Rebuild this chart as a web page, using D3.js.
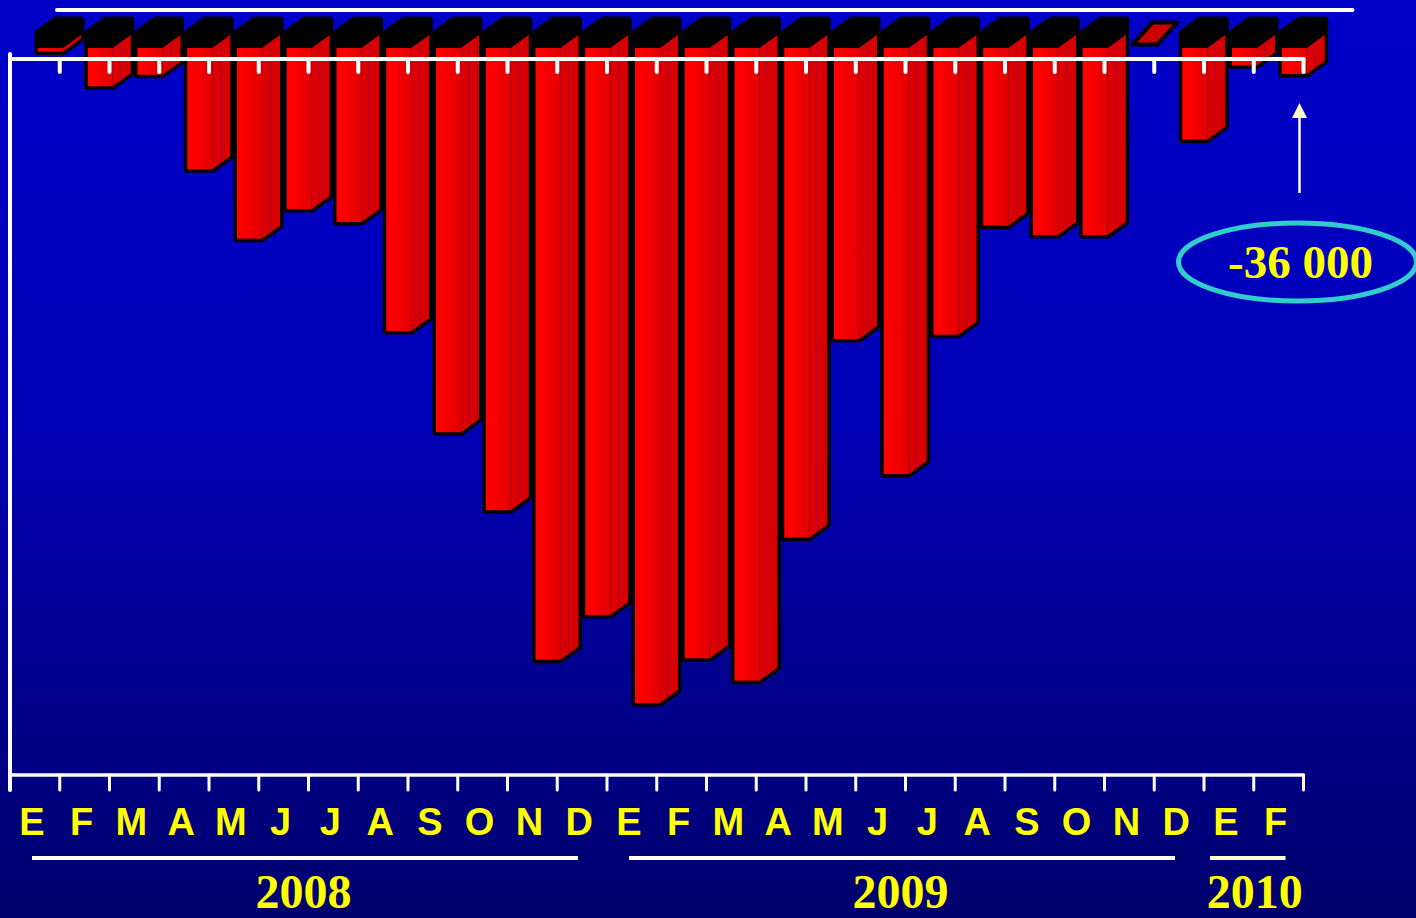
<!DOCTYPE html>
<html>
<head>
<meta charset="utf-8">
<script src="https://cdn.jsdelivr.net/npm/d3@7"></script>
<style>
  html, body { margin: 0; padding: 0; background: #000080; }
  svg { display: block; }
</style>
</head>
<body>
<svg id="chart" width="1416" height="918"></svg>
<script>
// ---- data ----
const monthLabels = ["E","F","M","A","M","J","J","A","S","O","N","D",
                     "E","F","M","A","M","J","J","A","S","O","N","D",
                     "E","F"];
// values in thousands (last = -36 000)
const values = [-5, -53, -37, -168, -264, -223, -241, -392, -532, -640, -847, -785,
                -907, -845, -876, -678, -403, -590, -397, -246, -259, -259, 5, -127,
                -24, -36];
const yearLabels = ["2008", "2009", "2010"];
const yearMonthCounts = [12, 12, 2];
const calloutLabel = "-36 000";

// ---- layout ----
const W = 1416, H = 918;
const svg = d3.select("#chart");
const defs = svg.append("defs");

const bg = defs.append("linearGradient").attr("id", "bg").attr("x1", 0).attr("y1", 0).attr("x2", 0).attr("y2", 1);
bg.append("stop").attr("offset", "0").attr("stop-color", "#0000c8");
bg.append("stop").attr("offset", "0.45").attr("stop-color", "#0000b6");
bg.append("stop").attr("offset", "1").attr("stop-color", "#00006c");

const fg = defs.append("linearGradient").attr("id", "front").attr("x1", 0).attr("y1", 0).attr("x2", 1).attr("y2", 0);
fg.append("stop").attr("offset", "0").attr("stop-color", "#ff0000");
fg.append("stop").attr("offset", "0.45").attr("stop-color", "#f80000");
fg.append("stop").attr("offset", "0.6").attr("stop-color", "#ee0000");
fg.append("stop").attr("offset", "1").attr("stop-color", "#e40000");

const sg = defs.append("linearGradient").attr("id", "side").attr("x1", 0).attr("y1", 0).attr("x2", 1).attr("y2", 0);
sg.append("stop").attr("offset", "0").attr("stop-color", "#de0000");
sg.append("stop").attr("offset", "1").attr("stop-color", "#d40000");

svg.append("rect").attr("width", W).attr("height", H).attr("fill", "url(#bg)");

const x = d3.scaleBand().domain(d3.range(values.length)).range([10, 1303.5]).padding(0);
const bw = x.bandwidth();
const y = d3.scaleLinear().domain([0, -900]).range([48, 48 + 650]);

const frontOff = 28, fw = 25, dx = 18, dy = 13, cap = 15;
const y0 = y(0);

// back wall top line
svg.append("line")
  .attr("x1", x.range()[0] + 47).attr("x2", x.range()[1] + 49)
  .attr("y1", 10).attr("y2", 10)
  .attr("stroke", "#fff").attr("stroke-width", 4).attr("stroke-linecap", "round");

const bars = svg.append("g");
values.forEach((v, i) => {
  const x0 = x(i) + frontOff, x1 = x0 + fw;
  const yv = y(v);
  const g = bars.append("g");
  if (v < 0) {
    const sil = [[x0, yv], [x0, y0 - cap], [x0 + dx, y0 - cap - dy], [x1 + dx, y0 - cap - dy],
                 [x1 + dx, yv - dy], [x1, yv]];
    g.append("path").attr("d", d3.line()(sil) + "Z")
      .attr("fill", "#000").attr("stroke", "#000").attr("stroke-width", 7).attr("stroke-linejoin", "round");
    g.append("rect").attr("x", x0).attr("y", y0).attr("width", fw).attr("height", yv - y0)
      .attr("fill", "url(#front)");
    const side = [[x1, y0], [x1 + dx, y0 - dy], [x1 + dx, yv - dy], [x1, yv]];
    g.append("path").attr("d", d3.line()(side) + "Z").attr("fill", "url(#side)");
    g.append("line").attr("x1", x1).attr("x2", x1).attr("y1", y0).attr("y2", yv)
      .attr("stroke", "#b0002a").attr("stroke-width", 0.8);
    g.append("line").attr("x1", x1 + dx * 0.45).attr("x2", x1 + dx * 0.45)
      .attr("y1", y0 - dy * 0.45).attr("y2", yv - dy * 0.45)
      .attr("stroke", "#a00050").attr("stroke-width", 0.8);
  } else {
    const pdx = 20, pdy = 22;
    const par = [[x0, yv], [x1, yv], [x1 + pdx, yv - pdy], [x0 + pdx, yv - pdy]];
    g.append("path").attr("d", d3.line()(par) + "Z")
      .attr("fill", "#c80000").attr("stroke", "#000").attr("stroke-width", 4).attr("stroke-linejoin", "round");
  }
});

// ---- axes ----
const ax = svg.append("g").attr("stroke", "#fff").attr("stroke-linecap", "round");
const r0 = x.range()[0], r1 = x.range()[1];
const boundaries = d3.range(values.length + 1).map(i => r0 + i * bw);
// top (zero) axis
ax.append("line").attr("x1", r0).attr("x2", r1).attr("y1", 59).attr("y2", 59).attr("stroke-width", 4);
boundaries.slice(1).forEach(bx => {
  ax.append("line").attr("x1", bx).attr("x2", bx).attr("y1", 59).attr("y2", 72).attr("stroke-width", 4);
});
// left axis
ax.append("line").attr("x1", r0).attr("x2", r0).attr("y1", 54).attr("y2", 790).attr("stroke-width", 4);
// bottom axis
ax.append("line").attr("x1", r0).attr("x2", r1).attr("y1", 775).attr("y2", 775).attr("stroke-width", 3.5);
boundaries.forEach(bx => {
  ax.append("line").attr("x1", bx).attr("x2", bx).attr("y1", 775).attr("y2", 790).attr("stroke-width", 3);
});

// month labels
svg.append("g").selectAll("text").data(monthLabels).join("text")
  .attr("x", (d, i) => x(i) + bw / 2 - 3)
  .attr("y", 835)
  .attr("text-anchor", "middle")
  .attr("font-family", "'Liberation Sans', Arial, sans-serif")
  .attr("font-weight", "bold")
  .attr("font-size", 38)
  .attr("fill", "#ffff00")
  .text(d => d);

// year groups
let start = 0;
yearLabels.forEach((yl, k) => {
  const n = yearMonthCounts[k];
  const gx0 = x(start), gx1 = x(start + n - 1) + bw;
  const wide = (gx1 - gx0) > 200;
  const lx0 = wide ? gx0 + 22 : gx0 + 6;
  const lx1 = wide ? gx1 - 29 : gx1 - 18;
  svg.append("line")
    .attr("x1", lx0).attr("x2", lx1)
    .attr("y1", 858).attr("y2", 858)
    .attr("stroke", k === yearLabels.length - 1 ? "#ffffcc" : "#ffffff")
    .attr("stroke-width", 4);
  svg.append("text")
    .attr("x", (gx0 + gx1) / 2 - (wide ? 5 : -1))
    .attr("y", 908)
    .attr("text-anchor", "middle")
    .attr("font-family", "'Liberation Serif', 'Times New Roman', serif")
    .attr("font-weight", "bold")
    .attr("font-size", 48)
    .attr("fill", "#ffff00")
    .text(yl);
  start += n;
});

// callout arrow + ellipse on last bar
const last = values.length - 1;
const ax0 = x(last) + bw - 4;
const tipY = y(values[last]) + 29;
svg.append("line").attr("x1", ax0).attr("x2", ax0).attr("y1", tipY + 14).attr("y2", tipY + 90)
  .attr("stroke", "#ffffcc").attr("stroke-width", 2.5);
svg.append("path")
  .attr("d", d3.line()([[ax0, tipY], [ax0 - 7.5, tipY + 15], [ax0 + 7.5, tipY + 15]]) + "Z")
  .attr("fill", "#ffffcc");
svg.append("ellipse").attr("cx", ax0 - 2).attr("cy", 262).attr("rx", 119).attr("ry", 39)
  .attr("fill", "none").attr("stroke", "#33cccc").attr("stroke-width", 5);
svg.append("text").attr("x", ax0 + 1).attr("y", 278)
  .attr("text-anchor", "middle")
  .attr("font-family", "'Liberation Serif', 'Times New Roman', serif")
  .attr("font-weight", "bold")
  .attr("font-size", 47)
  .attr("fill", "#ffff00")
  .text(calloutLabel);
</script>
</body>
</html>
